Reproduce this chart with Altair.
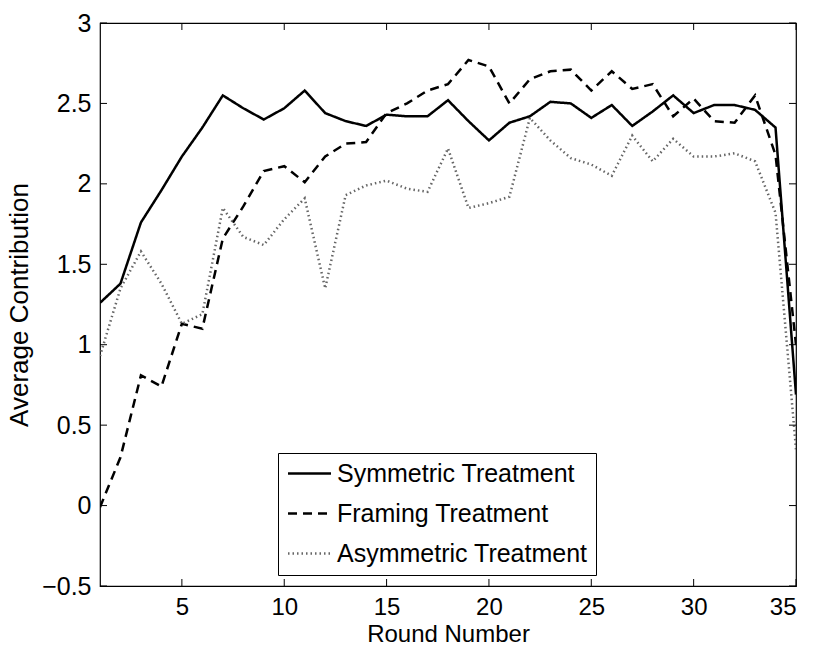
import altair as alt
import pandas as pd

rounds = list(range(1, 36))
symmetric = [1.26, 1.38, 1.76, 1.96, 2.17, 2.35, 2.55, 2.47, 2.40, 2.47, 2.58, 2.44, 2.39, 2.36, 2.43,
             2.42, 2.42, 2.52, 2.39, 2.27, 2.38, 2.42, 2.51, 2.50, 2.41, 2.49, 2.36, 2.45, 2.55, 2.44,
             2.49, 2.49, 2.46, 2.35, 0.69]
framing = [-0.01, 0.30, 0.81, 0.74, 1.13, 1.10, 1.66, 1.86, 2.08, 2.11, 2.01, 2.17, 2.25, 2.26, 2.44,
           2.50, 2.58, 2.62, 2.77, 2.73, 2.50, 2.65, 2.70, 2.71, 2.58, 2.70, 2.59, 2.62, 2.42, 2.53,
           2.39, 2.38, 2.55, 2.18, 1.00]
asymmetric = [0.93, 1.35, 1.58, 1.38, 1.13, 1.19, 1.85, 1.67, 1.62, 1.78, 1.91, 1.35, 1.93, 1.99, 2.02,
              1.97, 1.95, 2.22, 1.85, 1.88, 1.92, 2.41, 2.27, 2.16, 2.12, 2.05, 2.30, 2.14, 2.28, 2.17,
              2.17, 2.19, 2.14, 1.82, 0.35]
series_names = ["Symmetric Treatment", "Framing Treatment", "Asymmetric Treatment"]
x_ticks = [5, 10, 15, 20, 25, 30, 35]
y_ticks = [-0.5, 0, 0.5, 1, 1.5, 2, 2.5, 3]

rows = []
for name, vals in zip(series_names, [symmetric, framing, asymmetric]):
    for r, v in zip(rounds, vals):
        rows.append({"Round": r, "Value": v, "Series": name})
df = pd.DataFrame(rows)
xt = pd.DataFrame({"t": x_ticks})
yt = pd.DataFrame({"t": y_ticks})

W, H = 696, 563
FONT = "Liberation Sans"
TL = 7

xscale = alt.Scale(domain=[1, 35], nice=False, zero=False)
yscale = alt.Scale(domain=[-0.5, 3], nice=False, zero=False)

lines = alt.Chart(df).mark_line(clip=True).encode(
    x=alt.X("Round:Q", scale=xscale,
            axis=alt.Axis(values=x_ticks, ticks=False, domain=False, grid=False,
                          labelFontSize=24, labelFont=FONT, labelColor="black",
                          labelPadding=9, title="Round Number", titleFontSize=24,
                          titleFont=FONT, titleFontWeight="normal", titleColor="black",
                          titlePadding=3)),
    y=alt.Y("Value:Q", scale=yscale,
            axis=alt.Axis(values=y_ticks, ticks=False, domain=False, grid=False, format="~g",
                          labelFontSize=25, labelFont=FONT, labelColor="black",
                          labelPadding=9, title="Average Contribution", titleFontSize=26,
                          titleFont=FONT, titleFontWeight="normal", titleColor="black",
                          titlePadding=9)),
    color=alt.Color("Series:N",
                    scale=alt.Scale(domain=series_names, range=["black", "black", "#666666"]),
                    legend=alt.Legend(orient="none", legendX=178, legendY=430, title=None,
                                      symbolType="M-2,0H2", symbolSize=462, symbolStrokeWidth=2.5,
                                      symbolOffset=11, symbolFillColor="transparent",
                                      labelFontSize=25, labelFont=FONT, labelColor="black",
                                      labelOffset=15, rowPadding=14, padding=8, labelLimit=500,
                                      strokeColor="black", fillColor="white",
                                      labelExpr="datum.label + '\u00a0\u00a0\u00a0\u00a0\u00a0'")),
    strokeDash=alt.StrokeDash("Series:N",
                              scale=alt.Scale(domain=series_names, range=[[1, 0], [9, 6], [1.5, 3]]),
                              legend=None),
    strokeWidth=alt.StrokeWidth("Series:N",
                                scale=alt.Scale(domain=series_names, range=[2.5, 2.5, 1.6]),
                                legend=None),
    order=alt.Order("Round:Q"),
)

tick_x = alt.X("t:Q", scale=xscale)
tick_y = alt.Y("t:Q", scale=yscale)
bottom = alt.Chart(xt).mark_rule(color="black", strokeWidth=1).encode(
    x=tick_x, y=alt.value(H), y2=alt.value(H - TL))
top = alt.Chart(xt).mark_rule(color="black", strokeWidth=1).encode(
    x=tick_x, y=alt.value(0), y2=alt.value(TL))
left = alt.Chart(yt).mark_rule(color="black", strokeWidth=1).encode(
    y=tick_y, x=alt.value(0), x2=alt.value(TL))
right = alt.Chart(yt).mark_rule(color="black", strokeWidth=1).encode(
    y=tick_y, x=alt.value(W), x2=alt.value(W - TL))

chart = alt.layer(lines, bottom, top, left, right).properties(
    width=W, height=H,
    autosize=alt.AutoSizeParams(type="none"),
    padding={"left": 100, "top": 23, "right": 17, "bottom": 62},
    background="white",
).configure_view(stroke="black", strokeWidth=1.2)

chart.save("out.html", embed_options={"renderer": "svg", "actions": False})
